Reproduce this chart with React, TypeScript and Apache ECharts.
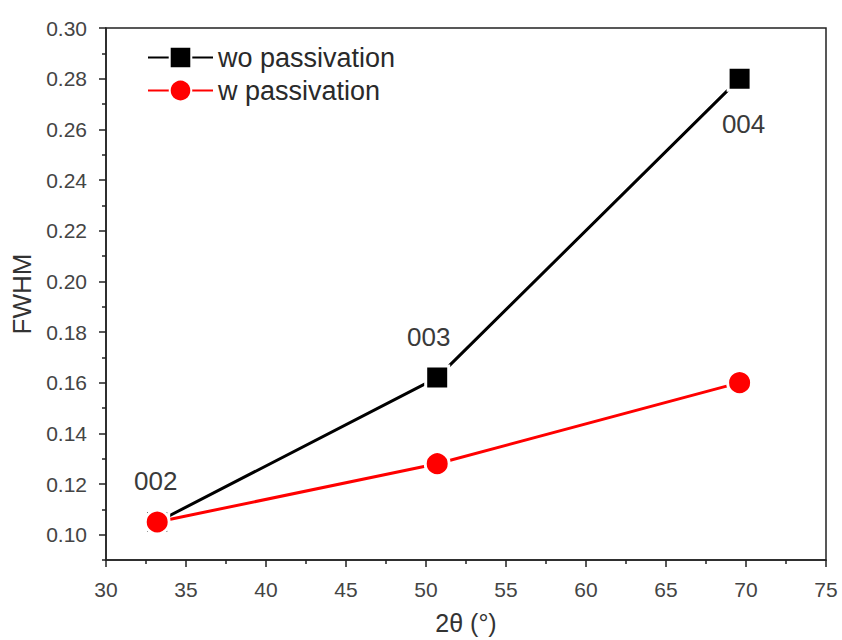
import React, { useEffect, useRef } from "react";
import * as echarts from "echarts";

const seriesNames = ["wo passivation", "w passivation"];
const twoTheta = [33.2, 50.7, 69.6];
const fwhmWo = [0.105, 0.162, 0.28];
const fwhmW = [0.105, 0.128, 0.16];
const peakLabels = ["002", "003", "004"];
const yMajorTicks = [0.1, 0.12, 0.14, 0.16, 0.18, 0.2, 0.22, 0.24, 0.26, 0.28, 0.3];
const yMinorTicks = [0.09, 0.11, 0.13, 0.15, 0.17, 0.19, 0.21, 0.23, 0.25, 0.27, 0.29];

export default function App() {
  const ref = useRef<HTMLDivElement>(null);
  useEffect(() => {
    if (!ref.current) return;
    const chart = echarts.init(ref.current, undefined, { renderer: "svg" });
    const font = "Liberation Sans, Arial, sans-serif";
    const axisColor = "#222";
    const labelOffsets = [
      [-1.5, -41],
      [-8.5, -41],
      [4, 45],
    ];
    const woData = twoTheta.map((x, i) => ({
      value: [x, fwhmWo[i]],
      label: {
        show: true,
        position: "inside",
        formatter: peakLabels[i],
        offset: labelOffsets[i],
        color: "#3a3a3a",
        fontSize: 26,
        fontFamily: font,
      },
    }));
    const wData = twoTheta.map((x, i) => [x, fwhmW[i]]);
    chart.setOption({
      animation: false,
      backgroundColor: "#fff",
      grid: {
        left: 106,
        top: 28,
        right: 16,
        bottom: 80,
        outerBoundsMode: "none",
        containLabel: false,
        show: true,
        borderColor: axisColor,
        borderWidth: 1.5,
        backgroundColor: "transparent",
      },
      legend: {
        left: 147,
        top: 44,
        padding: 0,
        orient: "vertical",
        itemWidth: 65,
        itemHeight: 27,
        itemGap: 6,
        textStyle: { fontSize: 27, color: "#2a2a2a", fontFamily: font },
        data: seriesNames,
      },
      xAxis: {
        type: "value",
        min: 30,
        max: 75,
        interval: 5,
        name: "2θ (°)",
        nameLocation: "middle",
        nameGap: 50,
        nameTextStyle: { fontSize: 25, color: "#333", fontFamily: font },
        axisLine: { show: true, lineStyle: { color: axisColor, width: 1.5 } },
        axisTick: { show: true, inside: false, length: 7, lineStyle: { color: axisColor, width: 1.5 } },
        minorTick: { show: true, splitNumber: 2, length: 4, lineStyle: { color: axisColor, width: 1.5 } },
        axisLabel: { fontSize: 21, color: "#444", fontFamily: font, margin: 19 },
        splitLine: { show: false },
      },
      yAxis: [
        {
          type: "value",
          min: 0.09,
          max: 0.3,
          interval: 0.01,
          position: "left",
          name: "FWHM",
          nameLocation: "middle",
          nameGap: 71,
          nameRotate: 90,
          nameTextStyle: { fontSize: 26, color: "#333", fontFamily: font },
          axisLine: { show: true, lineStyle: { color: axisColor, width: 1.5 } },
          axisTick: {
            show: true,
            inside: false,
            length: 7,
            customValues: yMajorTicks,
            lineStyle: { color: axisColor, width: 1.5 },
          },
          axisLabel: {
            fontSize: 21,
            color: "#444",
            fontFamily: font,
            margin: 19,
            customValues: yMajorTicks,
            formatter: (v: number) => v.toFixed(2),
          },
          splitLine: { show: false },
        },
        {
          type: "value",
          min: 0.09,
          max: 0.3,
          interval: 0.01,
          position: "left",
          offset: 0,
          axisLine: { show: false },
          axisTick: {
            show: true,
            inside: false,
            length: 4,
            customValues: yMinorTicks,
            lineStyle: { color: axisColor, width: 1.5 },
          },
          axisLabel: { show: false },
          splitLine: { show: false },
        },
      ],
      series: [
        {
          name: seriesNames[0],
          type: "line",
          data: woData,
          symbol: "rect",
          symbolSize: 23,
          color: "#000",
          lineStyle: { color: "#000", width: 3 },
          itemStyle: { color: "#000", borderColor: "#fff", borderWidth: 3 },
          z: 2,
        },
        {
          name: seriesNames[1],
          type: "line",
          data: wData,
          symbol: "circle",
          symbolSize: 24,
          color: "#ff0000",
          lineStyle: { color: "#ff0000", width: 3 },
          itemStyle: { color: "#ff0000", borderColor: "#fff", borderWidth: 3 },
          z: 3,
        },
      ],
    });
    return () => chart.dispose();
  }, []);
  return <div ref={ref} style={{ width: 842, height: 640, position: "absolute", left: 0, top: 0 }} />;
}
